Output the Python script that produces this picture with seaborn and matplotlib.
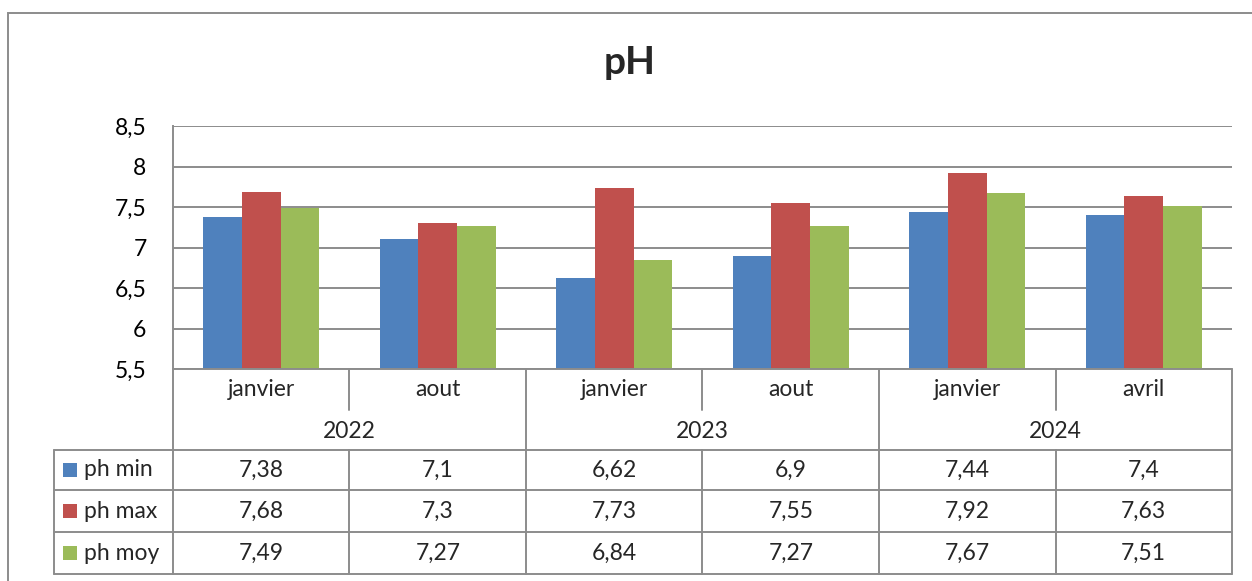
import matplotlib
matplotlib.use("Agg")
import matplotlib.pyplot as plt
import seaborn as sns
import pandas as pd
from matplotlib.lines import Line2D
from matplotlib.patches import Rectangle
from matplotlib.ticker import FuncFormatter

# ---- data ----
years = ["2022", "2023", "2024"]
months = ["janvier", "aout", "janvier", "aout", "janvier", "avril"]
month_year = ["2022", "2022", "2023", "2023", "2024", "2024"]
series = ["ph min", "ph max", "ph moy"]
ph_min = [7.38, 7.1, 6.62, 6.9, 7.44, 7.4]
ph_max = [7.68, 7.3, 7.73, 7.55, 7.92, 7.63]
ph_moy = [7.49, 7.27, 6.84, 7.27, 7.67, 7.51]
colors = ["#4F81BD", "#C0504D", "#9BBB59"]
y_ticks = [5.5, 6, 6.5, 7, 7.5, 8, 8.5]

keys = [f"{y} {m} {i}" for i, (y, m) in enumerate(zip(month_year, months))]
rows = []
for s, vals in zip(series, [ph_min, ph_max, ph_moy]):
    for k, v in zip(keys, vals):
        rows.append({"cat": k, "serie": s, "val": v})
df = pd.DataFrame(rows)

sns.set_theme(style="white")
FONT = ["Lato", "DejaVu Sans"]
plt.rcParams["font.family"] = FONT

W, H = 1252, 581
fig = plt.figure(figsize=(W / 100, H / 100), dpi=100)

def fx(x):
    return x / W

def fy(y):
    return 1 - y / H

L, R, T, B = 173, 1232, 126, 369
ax = fig.add_axes([fx(L), fy(B), fx(R) - fx(L), fy(T) - fy(B)])
sns.barplot(data=df, x="cat", y="val", hue="serie", order=keys, hue_order=series,
            palette=colors, width=0.66, saturation=1, ax=ax, legend=False,
            edgecolor="none", linewidth=0)
ax.set_ylim(5.5, 8.5)
ax.set_xlim(-0.5, 5.5)
ax.set_yticks(y_ticks)
ax.yaxis.set_major_formatter(FuncFormatter(lambda v, p: (f"{v:g}").replace(".", ",")))
FS = 16.5
ax.tick_params(axis="y", length=0, pad=19, labelsize=FS, labelcolor="#000000")
ax.set_xticks([])
ax.set_xlabel("")
ax.set_ylabel("")
ax.grid(axis="y", color="#8c8c8c", linewidth=1.4)
ax.set_axisbelow(True)
for s in ["top", "right", "bottom"]:
    ax.spines[s].set_visible(False)
ax.spines["left"].set_color("#8c8c8c")
ax.spines["left"].set_linewidth(1.4)

LC = "#8c8c8c"
LW = 1.4

def hline(y, x0, x1):
    fig.add_artist(Line2D([fx(x0), fx(x1)], [fy(y), fy(y)], color=LC, lw=LW))

def vline(x, y0, y1):
    fig.add_artist(Line2D([fx(x), fx(x)], [fy(y0), fy(y1)], color=LC, lw=LW))

# outer frame
fig.add_artist(Rectangle((fx(8), fy(600)), fx(1300) - fx(8), fy(13) - fy(600),
                         fill=False, edgecolor="#8c8c8c", lw=1.4))

# data table
col_w = (R - L) / 6
cols = [L + i * col_w for i in range(7)]
y_month, y_year, r1, r2, r3 = 369, 410, 450, 490, 532
y_bot = 574
KL = 54
hline(B, L, R)
hline(r1, KL, R)
hline(r2, KL, R)
hline(r3, KL, R)
hline(y_bot, KL, R)
vline(L, B, y_bot)
vline(R, B, y_bot)
vline(KL, r1, y_bot)
for i in range(1, 6):
    if i % 2 == 0:
        vline(cols[i], B, y_bot)
    else:
        vline(cols[i], B, y_year)
        vline(cols[i], r1, y_bot)

for i, m in enumerate(months):
    cx = (cols[i] + cols[i + 1]) / 2
    fig.text(fx(cx), fy(389), m, ha="center", va="center", fontsize=FS)
for j, yr in enumerate(years):
    cx = (cols[2 * j] + cols[2 * j + 2]) / 2
    fig.text(fx(cx), fy(431), yr, ha="center", va="center", fontsize=FS)

row_centers = [470, 511, 553]
for s, vals, c, yc in zip(series, [ph_min, ph_max, ph_moy], colors, row_centers):
    fig.add_artist(Rectangle((fx(63), fy(yc + 7)), fx(77) - fx(63), fy(yc - 7) - fy(yc + 7),
                             facecolor=c, edgecolor="none"))
    fig.text(fx(84), fy(yc), s, ha="left", va="center", fontsize=FS)
    for i, v in enumerate(vals):
        cx = (cols[i] + cols[i + 1]) / 2
        fig.text(fx(cx), fy(yc), f"{v:g}".replace(".", ","), ha="center", va="center", fontsize=FS)

fig.text(fx(630), fy(62), "pH", ha="center", va="center", fontsize=28, fontweight="bold")

fig.savefig("out.png", dpi=100)
